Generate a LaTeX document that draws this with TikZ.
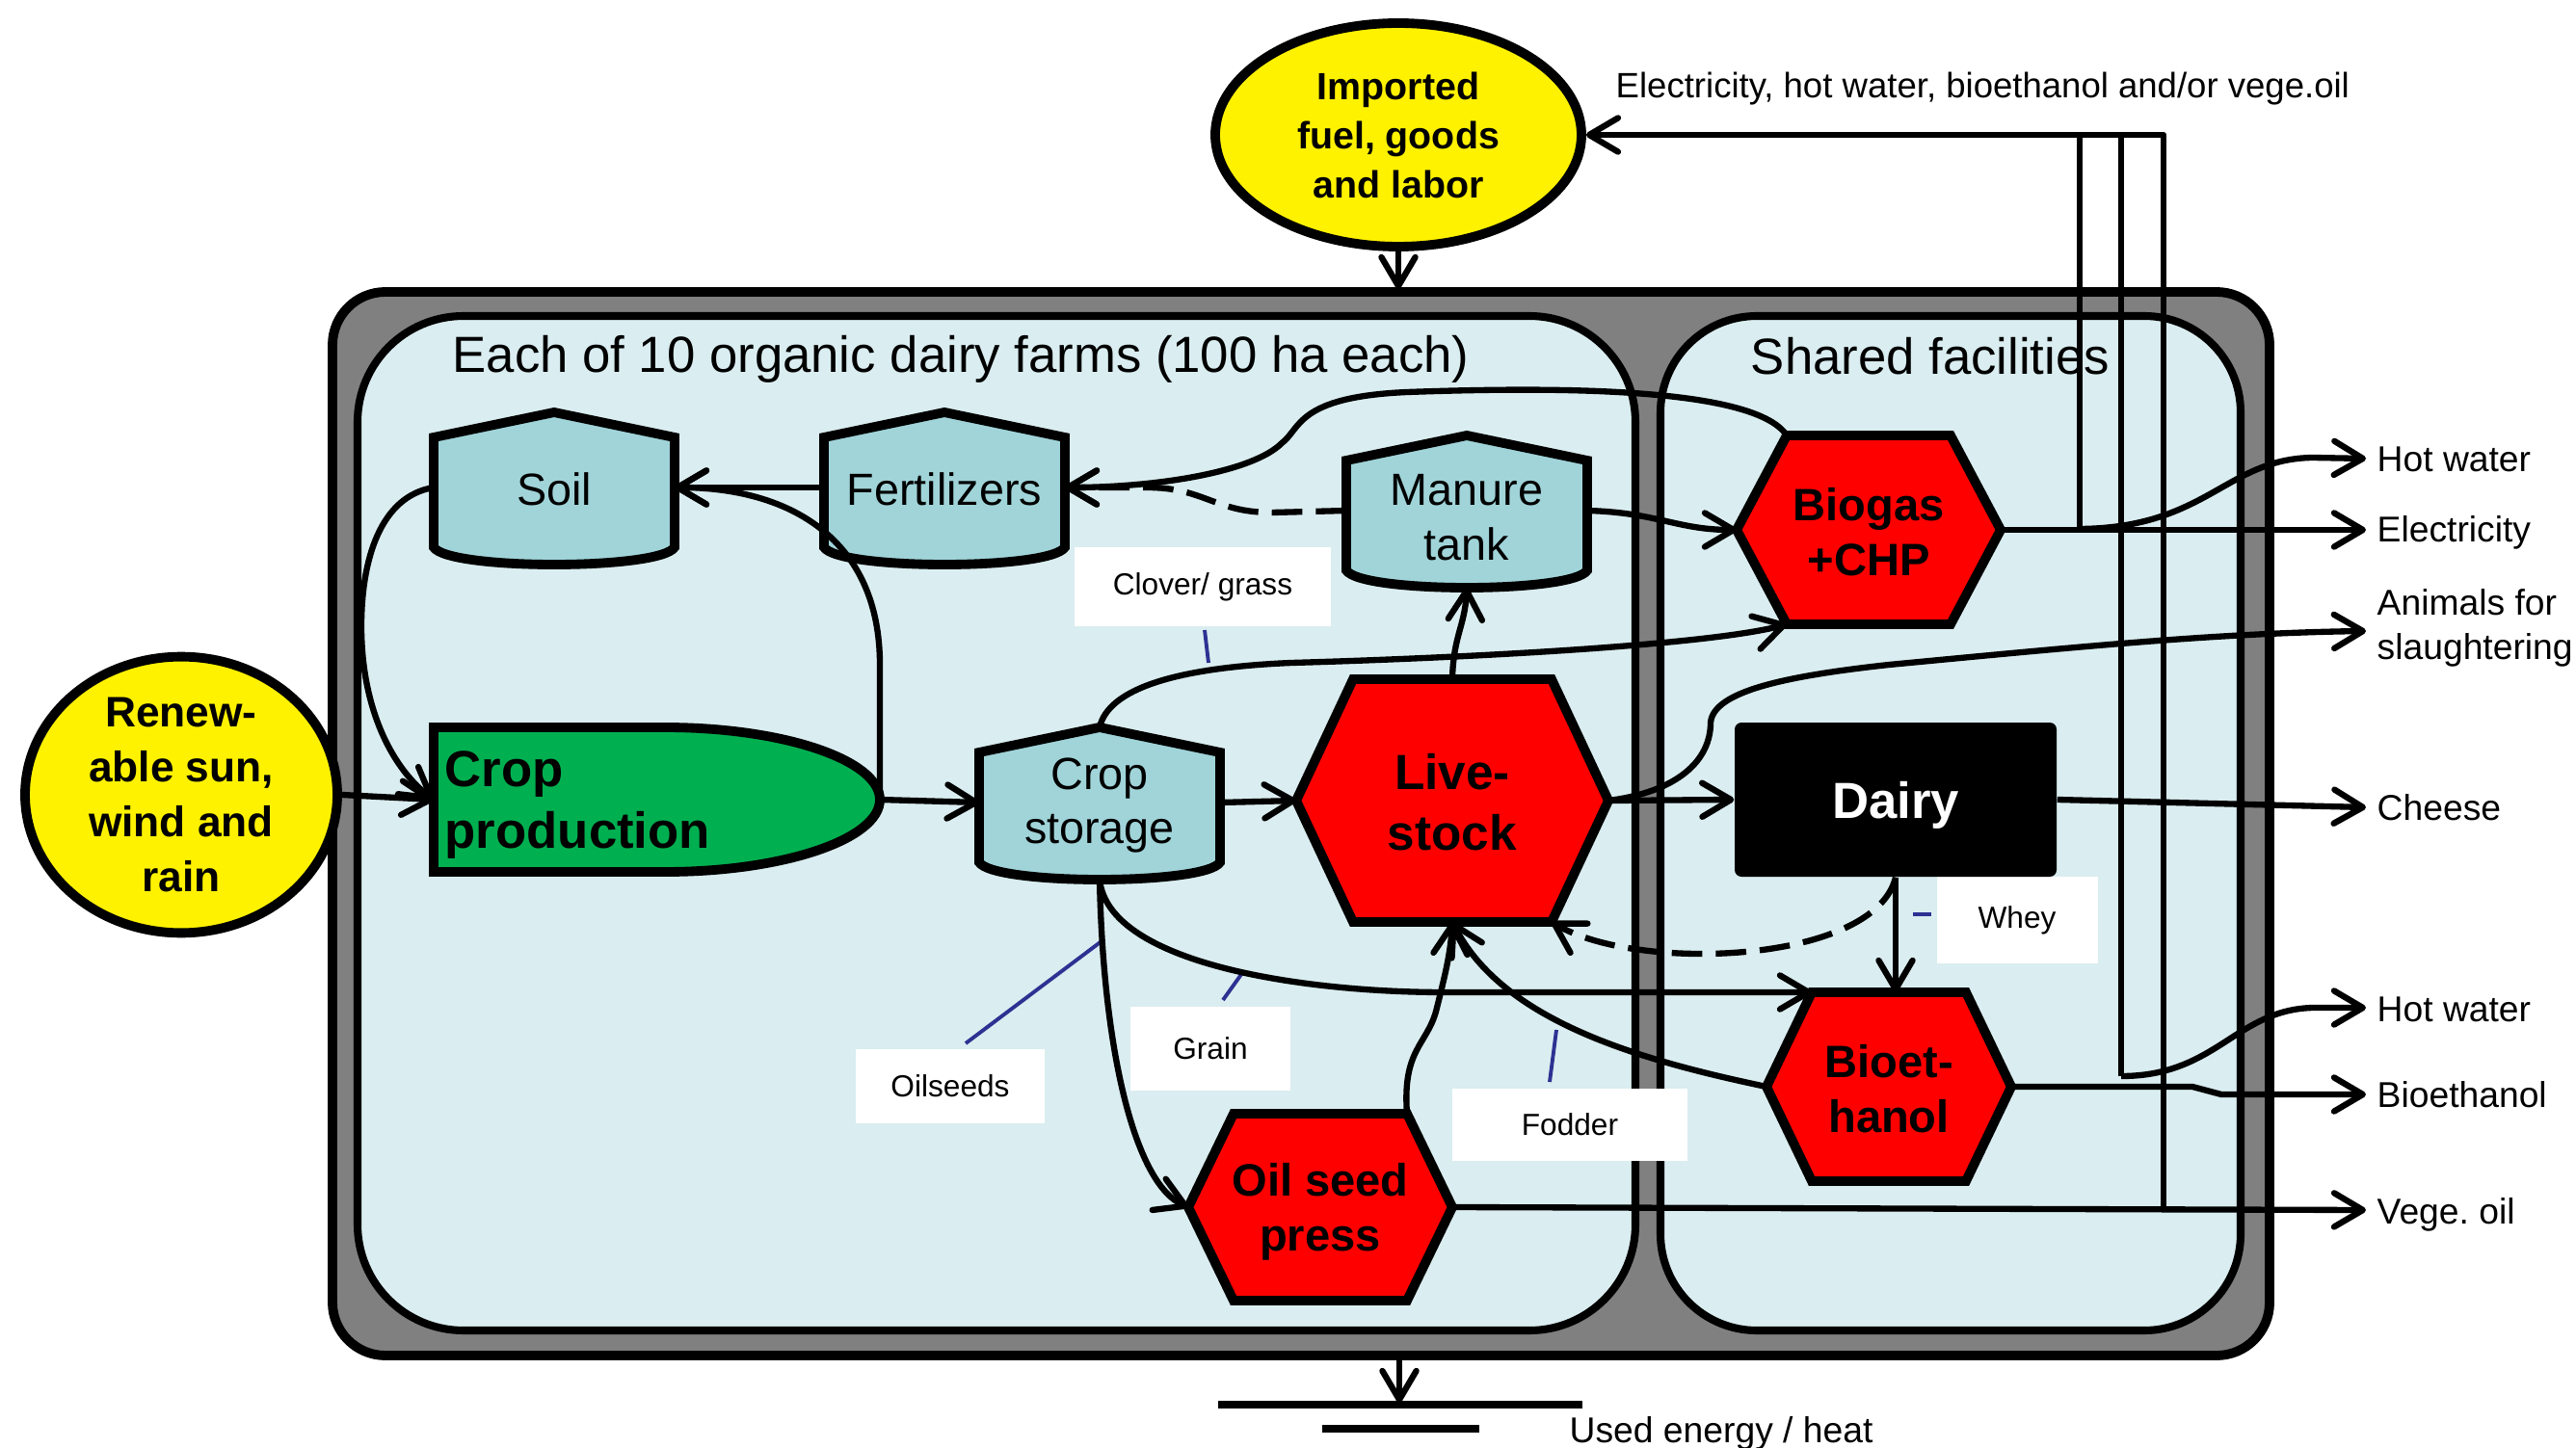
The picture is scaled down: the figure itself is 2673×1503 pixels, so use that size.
\documentclass[tikz,border=0pt]{standalone}
\usepackage{fontspec}
\setmainfont{Liberation Sans}
\usetikzlibrary{arrows.meta,shapes.geometric}
\frenchspacing
\definecolor{panel}{RGB}{218,237,240}
\definecolor{silo}{RGB}{160,212,217}
\definecolor{outergray}{RGB}{128,128,128}
\definecolor{cropgreen}{RGB}{0,176,80}
\definecolor{leader}{RGB}{46,49,146}
\newcommand\mfsilo{\fontsize{13.3}{16.2}\selectfont}
\newcommand\mfhex{\bfseries\fontsize{13.4}{16.2}\selectfont}
\newcommand\mfls{\bfseries\fontsize{14.6}{18}\selectfont}
\newcommand\mfcp{\bfseries\fontsize{15}{18.2}\selectfont}
\newcommand\mfdairy{\bfseries\fontsize{15}{18}\selectfont}
\newcommand\mfimp{\bfseries\fontsize{11.2}{14.5}\selectfont}
\newcommand\mfren{\bfseries\fontsize{12.6}{16.3}\selectfont}
\newcommand\mftitle{\fontsize{15}{18}\selectfont}
\newcommand\mfout{\fontsize{10.6}{13}\selectfont}
\newcommand\mfsmall{\fontsize{9}{11}\selectfont}
\newcommand\mftop{\fontsize{10.4}{12.5}\selectfont}
% hexagon: name, cx, cy, half width, half top width, half height
\newcommand\hexa[6]{%
 \draw[hexstyle] (#2-#4,#3) coordinate (#1-w) -- (#2-#5,#3-#6) coordinate (#1-nw) -- (#2+#5,#3-#6) coordinate (#1-ne) -- (#2+#4,#3) coordinate (#1-e) -- (#2+#5,#3+#6) coordinate (#1-se) -- (#2-#5,#3+#6) coordinate (#1-sw) -- cycle;
 \coordinate (#1-n) at (#2,#3-#6);
 \coordinate (#1-s) at (#2,#3+#6);
}
% silo: name, cx, ytop
\newcommand\silo[3]{%
 \draw[silostyle] (#2-125,#3+26) -- (#2,#3) -- (#2+125,#3+26) -- (#2+125,#3+140) .. controls (#2+110,#3+164) and (#2-110,#3+164) .. (#2-125,#3+140) -- cycle;
 \coordinate (#1-n) at (#2,#3);
 \coordinate (#1-w) at (#2-125,#3+78);
 \coordinate (#1-e) at (#2+125,#3+78);
 \coordinate (#1-s) at (#2,#3+158);
}
\begin{document}
\begin{tikzpicture}[x=0.1mm,y=-0.1mm,line join=round,
 conn/.style={line width=1.8pt},
 arr/.style={conn,-{Straight Barb[length=8.5pt,width=10pt,round]}},
 dsh/.style={dash pattern=on 9pt off 4pt},
 hexstyle/.style={line width=2.8pt,fill=red,line join=miter},
 silostyle/.style={line width=2.8pt,fill=silo,line join=miter},
 lbl/.style={fill=white,inner sep=0pt,font=\mfsmall},
 outl/.style={font=\mfout,inner sep=0pt,anchor=base west},
 leadl/.style={leader,line width=1.1pt}]
\useasboundingbox (0,0) rectangle (2673,1503);
% panels
\draw[line width=2.8pt,fill=outergray,rounded corners=5.5mm] (345,303) rectangle (2355,1407);
\draw[line width=2.3pt,fill=panel,rounded corners=11mm] (371,328) rectangle (1697,1381);
\draw[line width=2.3pt,fill=panel,rounded corners=10mm] (1723,328) rectangle (2325,1381);
\node[font=\mftitle] (ttl1) at (997,373) {Each of 10 organic dairy farms (100 ha each)};
\node[font=\mftitle] (ttl2) at (2003,370) {Shared facilities};
% label boxes
\node[lbl,minimum width=26.6mm,minimum height=8.2mm] (clover) at (1248,609) {Clover/ grass};
\node[lbl,minimum width=19.6mm,minimum height=7.7mm] (oilseeds) at (986,1127) {Oilseeds};
\node[lbl,minimum width=16.6mm,minimum height=8.7mm] (grain) at (1256,1088) {Grain};
\node[lbl,minimum width=24.4mm,minimum height=7.5mm] (fodder) at (1629,1167) {Fodder};
\node[lbl,minimum width=16.7mm,minimum height=9mm] (whey) at (2093,955) {Whey};
\draw[leadl] (1250,654) -- (1254,688);
\draw[leadl] (1002,1083) -- (1143,977);
\draw[leadl] (1269,1038) -- (1289,1010);
\draw[leadl] (1608,1123) -- (1615,1069);
\draw[leadl] (1985,949) -- (2004,949);
% outer nodes
\node[ellipse,draw,line width=2.8pt,fill=yellow,minimum width=38mm,minimum height=23.2mm,inner sep=0pt,align=center,font=\mfimp] (imp) at (1451,140) {Imported\\fuel, goods\\and labor};
\node[ellipse,draw,line width=2.8pt,fill=yellow,minimum width=32.4mm,minimum height=28.4mm,inner sep=0pt,align=center,font=\mfren] (ren) at (188,825) {Renew-\\able sun,\\wind and\\rain};
% storage shapes
\silo{soil}{575}{428}
\silo{fert}{980}{428}
\silo{mt}{1522}{452}
\silo{cs}{1141}{755}
\node[font=\mfsilo] (soilT) at (575,508) {Soil};
\node[font=\mfsilo] (fertT) at (980,508) {Fertilizers};
\node[font=\mfsilo,align=center] (mtT) at (1522,537) {Manure\\tank};
\node[font=\mfsilo,align=center] (csT) at (1141,836) {Crop\\storage};
% crop production
\draw[line width=2.8pt,fill=cropgreen,line join=miter] (450,755) -- (690,755) .. controls (813,755) and (913,789) .. (913,830) .. controls (913,871) and (813,905) .. (690,905) -- (450,905) -- cycle;
\coordinate (cp-e) at (913,830);
\coordinate (cp-w) at (450,830);
\node[font=\mfcp,align=left,anchor=west,inner sep=0pt] (cpT) at (461,836) {Crop\\production};
% hexagons
\hexa{ls}{1507}{831}{162}{103}{126}
\hexa{bg}{1939}{550}{137}{85}{98}
\hexa{be}{1960}{1128}{127}{80}{98}
\hexa{osp}{1370}{1253}{137}{90}{97}
\node[font=\mfls,align=center] (lsT) at (1507,833) {Live-\\stock};
\node[font=\mfhex,align=center] (bgT) at (1939,552) {Biogas\\+CHP};
\node[font=\mfhex,align=center] (beT) at (1960,1130) {Bioet-\\hanol};
\node[font=\mfhex,align=center] (ospT) at (1370,1258) {Oil seed\\press};
\node[fill=black,rounded corners=2pt,minimum width=33.4mm,minimum height=16mm,inner sep=0pt] (dairy) at (1967,830) {};
\node[font=\mfdairy,text=white,inner sep=0pt] (dairyT) at (1967,836) {Dairy};
% coordinates
\coordinate (boxtop) at (1451,300);
\coordinate (boxbot) at (1452,1411);
\coordinate (gnd) at (1452,1456);
\coordinate (v1b) at (2158,549);
\coordinate (v2b) at (2201,1117);
\coordinate (v3b) at (2245,1256);
\coordinate (hw1T) at (2455,476);
\coordinate (elecT) at (2455,550);
\coordinate (animT) at (2455,655);
\coordinate (cheeseT) at (2455,838);
\coordinate (hw2T) at (2455,1046);
\coordinate (bioT) at (2455,1136);
\coordinate (vegeT) at (2455,1256);
% connectors
\draw[arr] (imp.south) -- (boxtop);
\draw[arr] (v3b) |- (imp.east);
\draw[conn] (v1b) -- (v1b |- imp.east);
\draw[conn] (v2b) -- (v2b |- imp.east);
\draw[arr] (bg-e) -- (elecT);
\draw[arr] (v1b) .. controls (2290,548) and (2310,476) .. (2400,475) -- (hw1T);
\draw[arr] (ls-e) .. controls (1740,822) and (1775,790) .. (1775,750) .. controls (1778,718) and (1850,702) .. (1960,690) .. controls (2150,672) and (2300,657) .. (animT);
\draw[arr] (ls-e) -- (dairy.west);
\draw[arr] (dairy.east) -- (cheeseT);
\draw[arr] (dairy.south) -- (dairy.south |- be-n);
\draw[arr,dsh] (dairy.south) .. controls (1945,1000) and (1700,1010) .. (ls-se);
\draw[arr] (cp-e) -- (cs-w);
\draw[arr] (cs-e) -- (ls-w);
\draw[arr] (cp-e) -- (913,690) .. controls (913,560) and (820,506) .. (soil-e);
\draw[arr] (fert-w) -- (soil-e);
\draw[arr,dsh] (mt-w) -- (1320,532) .. controls (1260,532) and (1250,506) .. (1190,506) -- (fert-e);
\draw[arr] (bg-nw) .. controls (1820,400) and (1600,402) .. (1460,407) .. controls (1345,412) and (1350,445) .. (1330,460) .. controls (1300,490) and (1200,506) .. (fert-e);
\draw[arr] (mt-e) .. controls (1720,532) and (1740,550) .. (bg-w);
\draw[arr] (ls-n) .. controls (1508,660) and (1520,650) .. (mt-s);
\draw[arr] (ren.east) -- (cp-w);
\draw[arr] (soil-w) .. controls (395,515) and (375,580) .. (375,650) .. controls (375,740) and (410,800) .. (cp-w);
\draw[arr] (cs-n) .. controls (1150,715) and (1220,693) .. (1340,688) .. controls (1550,682) and (1780,668) .. (bg-sw);
\draw[arr] (cs-s) .. controls (1150,1000) and (1350,1030) .. (1500,1030) -- (be-nw);
\draw[arr] (cs-s) .. controls (1145,1100) and (1180,1230) .. (osp-w);
\draw[arr] (osp-ne) .. controls (1455,1090) and (1480,1085) .. (1490,1050) .. controls (1500,1010) and (1505,990) .. (ls-s);
\draw[arr] (be-w) .. controls (1700,1100) and (1560,1060) .. (ls-s);
\draw[arr] (be-e) -- (2275,1128) -- (2305,1136) -- (bioT);
\draw[arr] (v2b) .. controls (2300,1117) and (2320,1048) .. (2400,1046) -- (hw2T);
\draw[arr] (osp-e) -- (vegeT);
\draw[arr] (boxbot) -- (gnd);
\draw[line width=2.3pt] (1264,1458) -- (1642,1458);
\draw[line width=2.3pt] (1372,1483) -- (1535,1483);
% output labels
\node[font=\mftop,inner sep=0pt,anchor=base west] (toplbl) at (1676,102) {Electricity, hot water, bioethanol and/or vege.oil};
\node[outl] (lhw1) at (2466,490) {Hot water};
\node[outl] (lel) at (2466,563) {Electricity};
\node[font=\mfout,inner sep=0pt,anchor=west,align=left] (lan) at (2466,652) {Animals for\\slaughtering};
\node[outl] (lch) at (2466,851) {Cheese};
\node[outl] (lhw2) at (2466,1060) {Hot water};
\node[outl] (lbe) at (2466,1149) {Bioethanol};
\node[outl] (lvo) at (2466,1270) {Vege. oil};
\node[font=\mfout,inner sep=0pt,anchor=base west] (lue) at (1628,1497) {Used energy / heat};
\end{tikzpicture}
\end{document}
